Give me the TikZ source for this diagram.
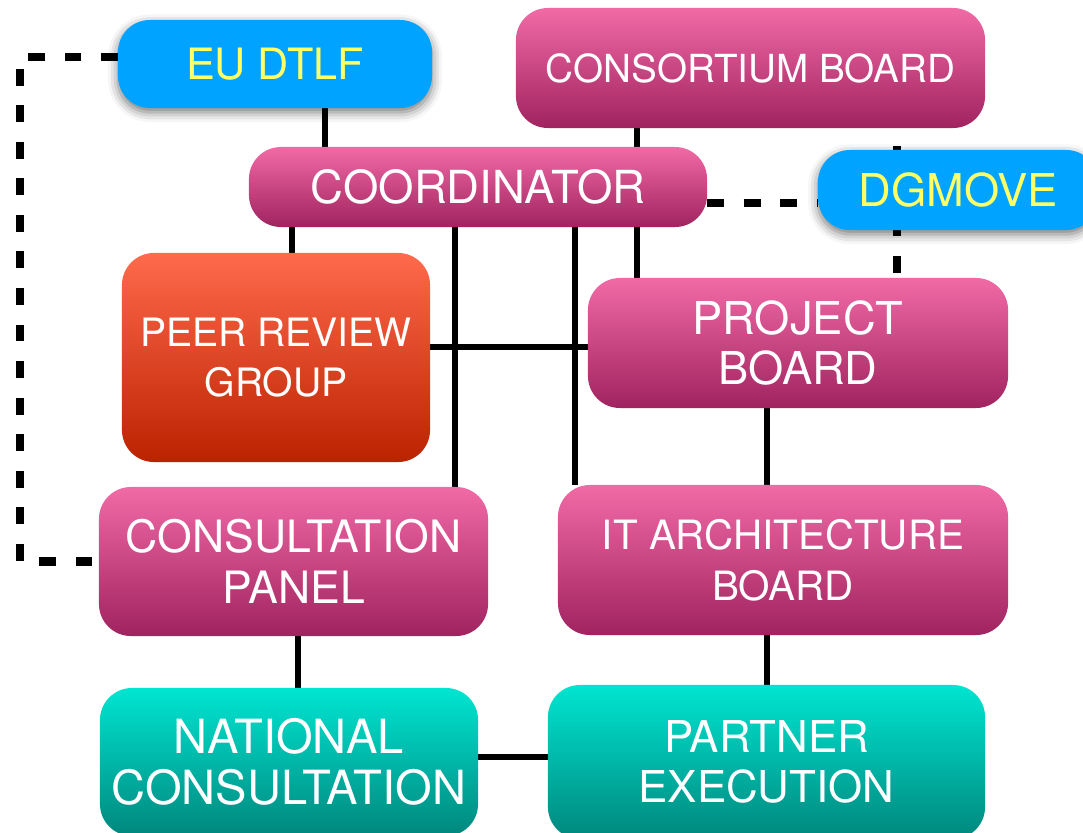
\documentclass[tikz,border=0pt]{standalone}
\usepackage{fontspec}
\setmainfont{TeX Gyre Heros}
\usetikzlibrary{positioning,calc,backgrounds,shadows.blur}

\definecolor{pinktop}{RGB}{241,106,166}
\definecolor{pinkmid}{RGB}{226,90,150}
\definecolor{pinkbot}{RGB}{160,35,95}
\definecolor{redtop}{RGB}{255,106,76}
\definecolor{redmid}{RGB}{232,82,48}
\definecolor{redbot}{RGB}{187,34,0}
\definecolor{tealtop}{RGB}{0,229,209}
\definecolor{tealmid}{RGB}{0,200,186}
\definecolor{tealbot}{RGB}{0,135,125}
\definecolor{eublue}{RGB}{0,163,255}
\definecolor{eutext}{RGB}{255,255,102}

\begin{document}
\begin{tikzpicture}[
  x=0.025cm, y=-0.025cm,
  box/.style={rounded corners=0.8cm, inner sep=0pt, outer sep=0pt, align=center, text=white},
  fsize/.style={font=\fontsize{#1}{36}\selectfont},
  board/.style={box, top color=pinktop, middle color=pinkmid, bottom color=pinkbot},
  review/.style={box, top color=redtop, middle color=redmid, bottom color=redbot},
  partner/.style={box, top color=tealtop, middle color=tealmid, bottom color=tealbot},
  outside/.style={box, fill=eublue, text=eutext,
                  blur shadow={shadow xshift=0pt, shadow yshift=-3pt, shadow blur radius=7pt, shadow opacity=55}},
  link/.style={line width=3.8pt},
  dlink/.style={line width=5.7pt, dash pattern=on 12pt off 14pt}
]
\useasboundingbox (0,0) rectangle (1083,833);

% ---------- nodes ----------
\node[outside, fsize=30.7, minimum width=7.85cm, minimum height=2.2cm] (EU) at (275,64) {EU DTLF};
\node[board, fsize=27.5, minimum width=11.725cm, minimum height=3cm] (CB) at (750.5,68) {CONSORTIUM BOARD};
\node[board, fsize=32.4, minimum width=11.45cm, minimum height=2cm] (CO) at (478,187) {COORDINATOR};
\node[outside, fsize=32.2, minimum width=7cm, minimum height=2cm] (DG) at (958,190) {DGMOVE};
\node[review, fsize=27.8, minimum width=7.7cm, minimum height=5.225cm] (PR) at (276,357.5) {PEER REVIEW\\GROUP};
\node[board, fsize=32.2, minimum width=10.5cm, minimum height=3.25cm] (PB) at (798,343) {PROJECT\\BOARD};
\node[board, fsize=31.7, minimum width=9.725cm, minimum height=3.725cm] (CP) at (293.5,561.5) {CONSULTATION\\PANEL};
\node[board, fsize=28.7, minimum width=11.25cm, minimum height=3.75cm] (IT) at (783,560) {IT ARCHITECTURE\\BOARD};
\node[partner, fsize=33.5, minimum width=9.45cm, minimum height=3.7cm] (NC) at (289,762) {NATIONAL\\CONSULTATION};
\node[partner, fsize=31.2, minimum width=10.925cm, minimum height=3.85cm] (PE) at (766.5,762) {PARTNER\\EXECUTION};

% ---------- connectors ----------
\begin{scope}[on background layer]
\draw[link] ($(EU.south)+(50,0)$) coordinate (a) -- (a |- CO.north);
\draw[link] ($(CB.south)+(-113.5,0)$) coordinate (a) -- (a |- PB.north);
\draw[link] ($(CO.south)+(-186,0)$) coordinate (a) -- (a |- PR.north);
\draw[link] ($(CO.south)+(-23,0)$) coordinate (a) -- (a |- CP.north);
\draw[link] ($(CO.south)+(97,0)$) coordinate (a) -- (a |- IT.north);
\draw[link] ($(PR.east)+(0,-10.5)$) coordinate (a) -- (a -| PB.west);
\draw[link] ($(PB.south)+(-31,0)$) coordinate (a) -- (a |- IT.north);
\draw[link] ($(CP.south)+(4.5,0)$) coordinate (a) -- (a |- NC.north);
\draw[link] ($(IT.south)+(-16,0)$) coordinate (a) -- (a |- PE.north);
\draw[link] ($(NC.east)+(0,-5)$) coordinate (a) -- (a -| PE.west);
% dashed links
\draw[dlink] ($(EU.west)+(0,-7)$) -| ($(CP.west)+(-79,0)$) -- (CP.west);
\draw[dlink] ($(CO.east)+(0,16)$) coordinate (a) -- (a -| DG.west);
\draw[dlink] ($(PB.north)+(99,-5)$) coordinate (a) -- (a |- CB.south);
\end{scope}
\end{tikzpicture}
\end{document}
